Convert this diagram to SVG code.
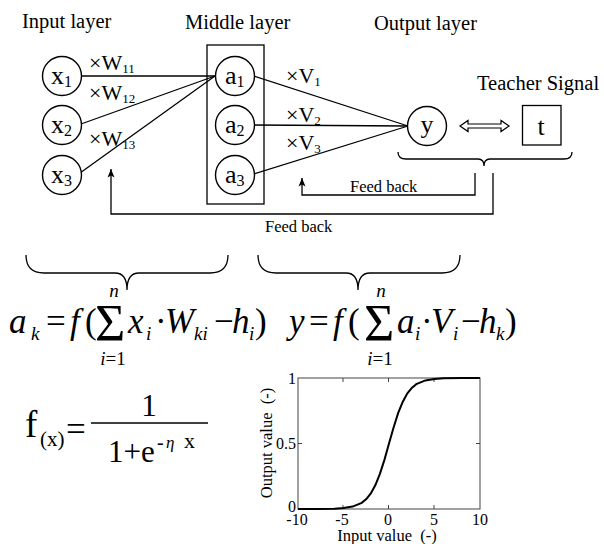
<svg xmlns="http://www.w3.org/2000/svg" width="604" height="544" viewBox="0 0 604 544">
<style>
.t{font-family:"Liberation Serif","Times New Roman",serif;fill:#000}
.i{font-style:italic}
.ln{stroke:#000;stroke-width:1.3;fill:none}
.nd{stroke:#000;stroke-width:1.4;fill:#fff}
.lay{font-size:20.5px}
.lbl{font-size:26px}
.sub{font-size:16px}
.w{font-size:22px}
.ws{font-size:13px}
.fb{font-size:16.5px}
.eq{font-size:35px}
.es{font-size:19px}
.ax{font-size:16px}
.tk{stroke:#444;stroke-width:1}
</style>
<defs>
<marker id="ah" markerWidth="10" markerHeight="10" refX="9" refY="5" orient="auto" markerUnits="userSpaceOnUse">
<path d="M0.5,1.5 L9,5 L0.5,8.5 L2.5,5 z" fill="#000"/>
</marker>
</defs>
<rect width="604" height="544" fill="#fff"/>

<!-- layer titles -->
<text class="t lay" x="22" y="28">Input layer</text>
<text class="t lay" x="185" y="29">Middle layer</text>
<text class="t lay" x="374" y="30">Output layer</text>
<text class="t lay" x="477" y="90">Teacher Signal</text>

<!-- connectors -->
<g id="connectors">
<line class="ln" x1="82" y1="76" x2="215" y2="76"/>
<line class="ln" x1="81" y1="124" x2="215" y2="76"/>
<line class="ln" x1="80" y1="173" x2="215" y2="76"/>
<line class="ln" x1="254" y1="76" x2="408" y2="126"/>
<line class="ln" x1="254" y1="125" x2="408" y2="126"/>
<line class="ln" x1="254" y1="174" x2="408" y2="126"/>
<polygon points="460,126 468,120.5 468,124 501,124 501,120.5 509,126 501,131.5 501,128 468,128 468,131.5" fill="#fff" stroke="#000" stroke-width="1.2"/>
<path class="ln" d="M398,152 Q398,159 406,159 L478,159 Q484,159 484,166 Q484,159 490,159 L564,159 Q572,159 572,152"/>
<polyline class="ln" points="475,173 475,195 302,195 302,178" marker-end="url(#ah)"/>
<polyline class="ln" points="493,173 493,214 111,214 111,169" marker-end="url(#ah)"/>
<text class="t fb" x="350" y="192">Feed back</text>
<text class="t fb" x="265" y="232">Feed back</text>
<text class="t w" x="89" y="70">×W<tspan class="ws" dy="3">11</tspan></text>
<text class="t w" x="89" y="100">×W<tspan class="ws" dy="3">12</tspan></text>
<text class="t w" x="89" y="146">×W<tspan class="ws" dy="3">13</tspan></text>
<text class="t w" x="286" y="83">×V<tspan class="ws" dy="3">1</tspan></text>
<text class="t w" x="286" y="122">×V<tspan class="ws" dy="3">2</tspan></text>
<text class="t w" x="286" y="150">×V<tspan class="ws" dy="3">3</tspan></text>
</g>

<!-- nodes -->
<g id="x1"><circle class="nd" cx="62" cy="76" r="19.5"/><text class="t lbl" x="51" y="84">x<tspan class="sub" dy="3">1</tspan></text></g>
<g id="x2"><circle class="nd" cx="62" cy="125" r="19.5"/><text class="t lbl" x="51" y="133">x<tspan class="sub" dy="3">2</tspan></text></g>
<g id="x3"><circle class="nd" cx="62" cy="175" r="19.5"/><text class="t lbl" x="51" y="183">x<tspan class="sub" dy="3">3</tspan></text></g>
<g id="middle"><rect x="207" y="45" width="57" height="159" fill="none" stroke="#000" stroke-width="1.3"/></g>
<g id="a1"><circle class="nd" cx="235" cy="76" r="19.5"/><text class="t lbl" x="225" y="84">a<tspan class="sub" dy="3">1</tspan></text></g>
<g id="a2"><circle class="nd" cx="235" cy="125" r="19.5"/><text class="t lbl" x="225" y="133">a<tspan class="sub" dy="3">2</tspan></text></g>
<g id="a3"><circle class="nd" cx="235" cy="175" r="19.5"/><text class="t lbl" x="225" y="183">a<tspan class="sub" dy="3">3</tspan></text></g>
<g id="y"><circle class="nd" cx="427" cy="126" r="19.5"/><text class="t lbl" x="427" y="133" text-anchor="middle">y</text></g>
<g id="t"><rect x="522.5" y="105.5" width="38.5" height="39.5" fill="#fff" stroke="#000" stroke-width="1.3"/><text class="t lbl" x="541" y="135" text-anchor="middle">t</text></g>

<!-- lower braces -->
<path class="ln" d="M26,255 Q26,273 44,273 L115,273 Q127,273 127,290 Q127,273 139,273 L210,273 Q228,273 228,255"/>
<path class="ln" d="M258,255 Q258,273 276,273 L346,273 Q358,273 358,290 Q358,273 370,273 L442,273 Q460,273 460,255"/>

<!-- equation a_k -->
<g id="eq1">
<text class="t eq i" x="9" y="333">a</text>
<text class="t es i" x="31" y="340">k</text>
<text class="t eq" x="46" y="333">=</text>
<text class="t eq i" x="70" y="333">f</text>
<text class="t eq" x="85" y="333">(</text>
<text class="t" style="font-size:52px" x="95" y="341">Σ</text>
<text class="t es i" x="114" y="297" text-anchor="middle">n</text>
<text class="t es" x="113" y="365" text-anchor="middle"><tspan class="i">i</tspan>=1</text>
<text class="t eq i" x="128" y="333">x</text>
<text class="t es i" x="146" y="340">i</text>
<text class="t eq" x="155" y="333">·</text>
<text class="t eq i" x="165" y="333">W</text>
<text class="t es i" x="194" y="340">ki</text>
<text class="t eq" x="214" y="333">−</text>
<text class="t eq i" x="232" y="333">h</text>
<text class="t es i" x="249" y="340">i</text>
<text class="t eq" x="255" y="333">)</text>
</g>

<!-- equation y -->
<g id="eq2">
<text class="t eq i" x="289" y="333">y</text>
<text class="t eq" x="309" y="333">=</text>
<text class="t eq i" x="333" y="333">f</text>
<text class="t eq" x="348" y="333">(</text>
<text class="t" style="font-size:52px" x="364" y="341">Σ</text>
<text class="t es i" x="381" y="297" text-anchor="middle">n</text>
<text class="t es" x="380" y="365" text-anchor="middle"><tspan class="i">i</tspan>=1</text>
<text class="t eq i" x="397" y="333">a</text>
<text class="t es i" x="415" y="340">i</text>
<text class="t eq" x="421" y="333">·</text>
<text class="t eq i" x="431" y="333">V</text>
<text class="t es i" x="453" y="340">i</text>
<text class="t eq" x="461" y="333">−</text>
<text class="t eq i" x="479" y="333">h</text>
<text class="t es i" x="496" y="340">k</text>
<text class="t eq" x="505" y="333">)</text>
</g>

<!-- sigmoid formula -->
<g id="eq3">
<text class="t" style="font-size:37px" x="25" y="437">f</text>
<text class="t" style="font-size:21px" x="40" y="446">(x)</text>
<text class="t" style="font-size:35px" x="66" y="441">=</text>
<line x1="91" y1="423" x2="208" y2="423" stroke="#000" stroke-width="1.6"/>
<text class="t" style="font-size:31px" x="149" y="416" text-anchor="middle">1</text>
<text class="t" style="font-size:31px" x="108" y="462">1+e</text>
<text class="t" style="font-size:20px" x="157" y="449">-</text>
<text class="t i" style="font-size:17px" x="166" y="448">η</text>
<text class="t" style="font-size:22px" x="184" y="448">x</text>
</g>

<!-- chart -->
<g id="chart">
<rect x="298" y="378" width="182" height="131" fill="none" stroke="#555" stroke-width="1.1"/>
<path class="tk" d="M343,509v-4M388.5,509v-4M434,509v-4M343,378v4M388.5,378v4M434,378v4M298,443.5h4M480,443.5h-4"/>
<polyline fill="none" stroke="#000" stroke-width="2" points="298,509 316.2,509 334.4,508.7 343.5,508.1 352.6,506.6 361.7,502.8 366.3,499.1 370.8,493.4 375.4,485.1 379.9,473.8 384.5,459.6 389,443.5 393.6,427.5 398.1,413.2 402.7,401.9 407.2,393.6 411.8,387.9 416.3,384.2 425.4,380.4 434.5,378.9 443.6,378.3 461.8,378 480,378"/>
<text class="t ax" x="297" y="525" text-anchor="middle">-10</text>
<text class="t ax" x="342" y="525" text-anchor="middle">-5</text>
<text class="t ax" x="388" y="525" text-anchor="middle">0</text>
<text class="t ax" x="434" y="525" text-anchor="middle">5</text>
<text class="t ax" x="480" y="525" text-anchor="middle">10</text>
<text class="t ax" x="296" y="384" text-anchor="end">1</text>
<text class="t ax" x="296" y="449" text-anchor="end">0.5</text>
<text class="t ax" x="296" y="512" text-anchor="end">0</text>
<text class="t" style="font-size:16.5px" x="387" y="541" text-anchor="middle" xml:space="preserve">Input value  (-)</text>
<text class="t" style="font-size:16.5px" transform="translate(272,443) rotate(-90)" text-anchor="middle" xml:space="preserve">Output value  (-)</text>
</g>
</svg>
